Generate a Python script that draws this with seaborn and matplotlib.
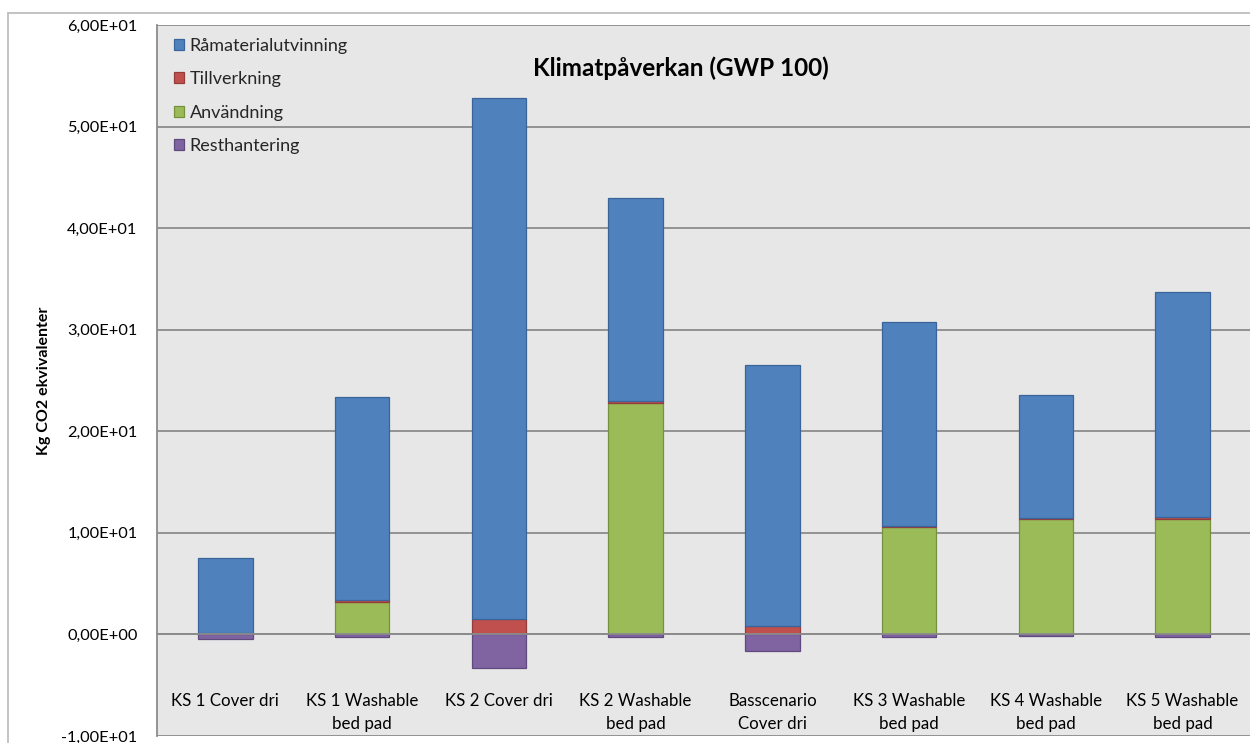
import matplotlib
matplotlib.use("Agg")
import matplotlib.pyplot as plt
import seaborn as sns
import numpy as np
from matplotlib.patches import Patch, Rectangle
from matplotlib.ticker import FuncFormatter

# Climate impact per scenario, kg CO2-equivalents, split by life-cycle phase
categories = [
    "KS 1 Cover dri",
    "KS 1 Washable\nbed pad",
    "KS 2 Cover dri",
    "KS 2 Washable\nbed pad",
    "Basscenario\nCover dri",
    "KS 3 Washable\nbed pad",
    "KS 4 Washable\nbed pad",
    "KS 5 Washable\nbed pad",
]
ramaterialutvinning = [7.35, 20.05, 51.35, 20.05, 25.70, 20.05, 12.05, 22.15]
tillverkning = [0.15, 0.15, 1.50, 0.20, 0.80, 0.12, 0.10, 0.15]
anvandning = [0.00, 3.20, 0.00, 22.75, 0.00, 10.58, 11.38, 11.40]
resthantering = [-0.45, -0.30, -3.30, -0.30, -1.65, -0.30, -0.20, -0.30]

series_names = ["Råmaterialutvinning", "Tillverkning", "Användning", "Resthantering"]
y_ticks = [-10, 0, 10, 20, 30, 40, 50, 60]

face = {"Råmaterialutvinning": "#4F81BD", "Tillverkning": "#C0504D",
        "Användning": "#9BBB59", "Resthantering": "#8064A2"}
edge = {"Råmaterialutvinning": "#3A659A", "Tillverkning": "#943C3A",
        "Användning": "#76923F", "Resthantering": "#5F4A7E"}

sns.set_theme(style="white")
plt.rcParams["font.family"] = ["Lato", "DejaVu Sans"]

W, H = 1250, 743
fig = plt.figure(figsize=(W / 100, H / 100), dpi=100)
fig.patch.set_facecolor("white")
ax = fig.add_axes([157 / W, 7 / H, 1094 / W, 711 / H])
ax.set_facecolor("#E7E7E7")

anv = np.array(anvandning)
till = np.array(tillverkning)
bar_kw = dict(width=0.40, saturation=1, errorbar=None, linewidth=0.9, ax=ax)

# stacked from the bottom: use phase, manufacturing, raw material; end-of-life goes below zero
sns.barplot(x=categories, y=anvandning, color=face["Användning"],
            edgecolor=edge["Användning"], **bar_kw)
sns.barplot(x=categories, y=tillverkning, bottom=anv, color=face["Tillverkning"],
            edgecolor=edge["Tillverkning"], **bar_kw)
sns.barplot(x=categories, y=ramaterialutvinning, bottom=anv + till,
            color=face["Råmaterialutvinning"], edgecolor=edge["Råmaterialutvinning"], **bar_kw)
sns.barplot(x=categories, y=resthantering, color=face["Resthantering"],
            edgecolor=edge["Resthantering"], **bar_kw)

grid_col = "#8C8C8C"
ax.set_xlim(-0.5, len(categories) - 0.5)
ax.set_ylim(-10, 60)
ax.set_yticks(y_ticks)
ax.yaxis.set_major_formatter(FuncFormatter(lambda v, p: format(v, ".2E").replace(".", ",")))
ax.set_axisbelow(True)
ax.yaxis.grid(True, color=grid_col, linewidth=1.3)
ax.xaxis.grid(False)

for side in ("top", "right"):
    ax.spines[side].set_visible(False)
ax.spines["left"].set_color(grid_col)
ax.spines["left"].set_linewidth(1.3)
ax.spines["bottom"].set_position(("data", 0))
ax.spines["bottom"].set_color(grid_col)
ax.spines["bottom"].set_linewidth(1.3)

ax.set_xticks(range(len(categories)))
ax.set_xticklabels(categories)
ax.set_xticks(np.arange(-0.5, len(categories), 1.0), minor=True)
ax.tick_params(axis="x", which="major", length=0, pad=42.5, labelsize=12.2, labelcolor="black")
ax.tick_params(axis="x", which="minor", length=5, width=1.3, color=grid_col, direction="out")
ax.tick_params(axis="y", which="major", length=5, width=1.3, color=grid_col, direction="out",
               labelsize=11.8, labelcolor="black", pad=9)
for lab in ax.get_xticklabels():
    lab.set_linespacing(1.48)

ax.set_xlabel("")
ax.set_ylabel("Kg CO2 ekvivalenter", fontsize=11.5, fontweight="bold", color="black")
ax.yaxis.set_label_coords((51 - 157) / 1094, 0.5)

fig.text(681 / W, 1 - 68 / H, "Klimatpåverkan (GWP 100)", ha="center", va="center",
         fontsize=17.5, fontweight="bold", color="black")

handles = [Patch(facecolor=face[n], edgecolor=edge[n], linewidth=0.9) for n in series_names]
ax.legend(handles, series_names, loc="upper left",
          bbox_to_anchor=((174 - 157) / 1094, (736 - 38) / 711),
          frameon=False, fontsize=13, handlelength=0.56, handleheight=0.56,
          handletextpad=0.3, labelspacing=0.96, borderpad=0, borderaxespad=0)

fig.add_artist(Rectangle((8 / W, -0.05), 1.1, (H - 13) / H + 0.05, transform=fig.transFigure,
                         fill=False, edgecolor="#BEBEBE", linewidth=1.3, clip_on=False))

fig.savefig("out.png", dpi=100, facecolor="white")
